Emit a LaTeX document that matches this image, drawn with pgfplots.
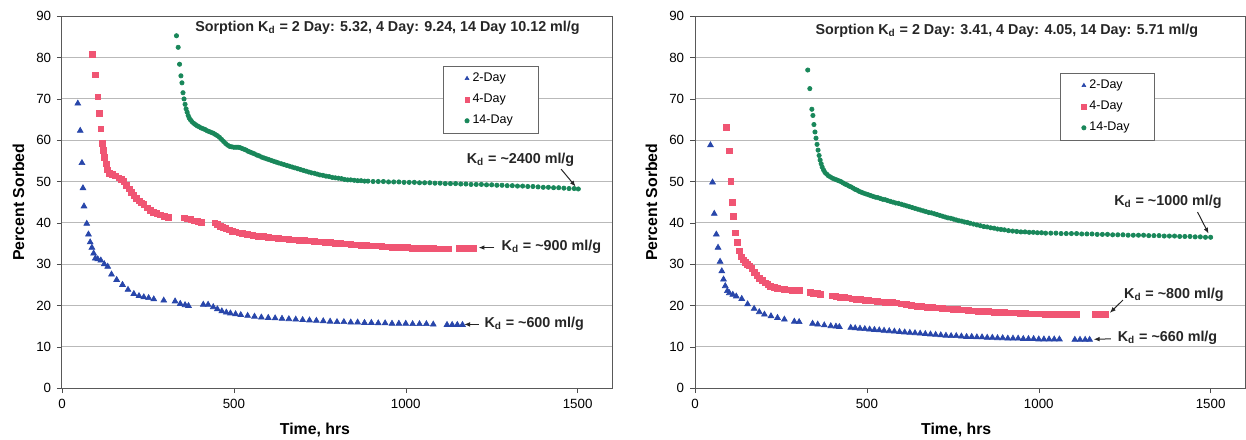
\documentclass[border=0pt]{standalone}
\usepackage{pgfplots}
\pgfplotsset{compat=1.18}
\usepackage{fontspec}
\setmainfont{Liberation Sans}
\usetikzlibrary{arrows.meta}
\definecolor{cblue}{RGB}{40,70,170}
\definecolor{cred}{RGB}{240,85,115}
\definecolor{cgreen}{RGB}{25,135,90}

\tikzset{
  ann/.style={font=\bfseries\fontsize{8.6}{10}\selectfont, text=black!85},
  arr/.style={-{Latex[length=3.5pt,width=2.8pt]}, black!85, line width=0.6pt},
}
\pgfplotsset{
  panel/.style={
    scale only axis, width=330pt, height=223pt,
    xmin=0, xmax=1600, ymin=0, ymax=90,
    xtick={0,500,1000,1500}, ytick={0,10,...,90},
    ymajorgrids, grid style={gray!55, line width=0.6pt},
    axis line style={gray!70!black, line width=0.6pt},
    tick align=outside, major tick length=3pt, tick style={black!70},
    xtick pos=left, ytick pos=left,
    tick label style={font=\fontsize{8}{9}\selectfont},
    /pgf/number format/assume math mode=true,
    /pgf/number format/1000 sep={},
    xlabel={Time, hrs}, ylabel={Percent Sorbed},
    label style={font=\bfseries\fontsize{9.5}{11}\selectfont},
    ylabel style={at={(axis description cs:-0.079,0.5)}, anchor=center},
    legend style={draw=black!60, font=\fontsize{7.5}{9}\selectfont, cells={anchor=west},
      row sep=2pt, inner xsep=13pt, inner ysep=2pt},
    legend image post style={mark size=1.3pt},
    clip=false,
  },
  s2/.style={only marks, mark=triangle*, mark size=2pt, color=cblue},
  s4/.style={only marks, mark=square*, mark size=1.7pt, color=cred},
  s14/.style={only marks, mark=*, mark size=1.3pt, color=cgreen},
}

\begin{document}
\begin{tikzpicture}
\useasboundingbox (0,0) rectangle (747.6pt,263.4pt);

% ---------------- Left panel ----------------
\begin{axis}[panel, at={(37.2pt,30.6pt)}, anchor=south west,
  xlabel style={at={(axis description cs:0.46,-0.112)}, anchor=center},
  legend style={at={(axis cs:1108,78)}, anchor=north west}]
\addplot[s2] coordinates {
(46,68.9)(53,62.3)(58,54.5)(61,48.4)(64,44.0)(72,39.8)(77,37.2)(82,35.3)(87,34.0)(92,32.6)
(97,31.4)(104,31.2)(113,30.9)(123,30.0)(133,29.4)(144,27.5)(159,26.2)(176,25.0)(192,23.8)(209,22.8)
(224,22.3)(238,22.0)(252,21.8)(267,21.5)(296,21.2)(329,21.0)(344,20.4)(358,20.1)(368,19.9)
(411,20.2)(425,20.2)(440,19.6)(452,19.1)(465,18.6)(478,18.3)(490,18.1)(505,17.9)(520,17.7)(540,17.5)
(560,17.3)(580,17.1)(600,17.0)(620,16.9)(640,16.8)(660,16.7)(680,16.6)(700,16.5)(720,16.4)(740,16.3)
(760,16.2)(780,16.1)(800,16.0)(820,16.0)(840,15.9)(860,15.9)(880,15.8)(900,15.8)(920,15.7)(940,15.7)
(960,15.6)(980,15.6)(1000,15.6)(1020,15.5)(1040,15.5)(1060,15.5)(1080,15.4)
(1120,15.3)(1135,15.3)(1150,15.3)(1165,15.3)};
\addlegendentry{2-Day}
\addplot[s4] coordinates {
(89,80.8)(97,75.8)(104,70.5)(108,66.5)(113,62.8)(118,59.2)(121,57.5)(124,55.8)(128,54.3)(132,52.8)
(138,52.0)(146,51.7)(156,51.4)(165,50.9)(173,50.5)(180,50.1)(188,49.1)(195,48.2)(202,47.4)(209,46.6)
(216,45.9)(224,45.3)(231,44.8)(238,44.4)(248,43.6)(257,43.0)(266,42.6)(276,42.3)(287,41.9)(298,41.6)
(309,41.4)
(355,41.2)(365,41.0)(375,40.8)(385,40.5)(395,40.3)(405,40.1)
(445,40.0)(452,39.6)(460,39.2)(468,38.9)(477,38.6)(486,38.3)(495,38.0)(505,37.8)(515,37.6)(525,37.4)
(540,37.2)(555,37.0)(570,36.8)(585,36.7)(600,36.5)(615,36.4)(630,36.2)(645,36.1)(660,36.0)(675,35.9)
(690,35.8)(705,35.7)(720,35.6)(735,35.5)(750,35.4)(765,35.3)(780,35.2)(795,35.1)(810,35.0)(825,34.9)
(840,34.8)(855,34.7)(870,34.6)(885,34.5)(900,34.4)(915,34.4)(930,34.3)(945,34.2)(960,34.1)(975,34.1)
(990,34.0)(1005,34.0)(1020,33.9)(1035,33.9)(1050,33.8)(1065,33.8)(1080,33.8)(1095,33.7)(1110,33.7)(1125,33.7)
(1155,33.9)(1170,33.9)(1185,33.9)(1198,33.9)};
\addlegendentry{4-Day}
\addplot[s14] coordinates {
(333,85.3)(338,82.5)(342,78.4)(346,75.6)(349,73.9)(352,71.5)(355,70.0)(358,68.7)(361,67.6)(364,66.8)
(367,66.0)(370,65.4)(374,64.9)(378,64.5)(383,64.1)(388,63.8)(393,63.5)(398,63.3)(404,63.0)(410,62.8)
(416,62.6)(422,62.3)(428,62.1)(434,61.9)(440,61.7)(446,61.4)(452,61.1)(458,60.7)(464,60.2)(470,59.7)
(476,59.2)(482,58.8)(488,58.5)(494,58.4)(500,58.3)(506,58.3)(512,58.3)(518,58.2)(524,58.0)(530,57.8)
(536,57.6)(542,57.3)(548,57.1)(554,56.9)(560,56.7)(567,56.4)(574,56.2)(581,55.9)(588,55.7)(595,55.5)
(602,55.3)(609,55.1)(616,54.9)(623,54.7)(630,54.5)(638,54.3)(646,54.1)(654,53.9)(662,53.7)(670,53.5)
(678,53.3)(686,53.1)(694,52.9)(702,52.7)(710,52.5)(718,52.3)(726,52.1)(734,52.0)(742,51.8)(750,51.6)
(759,51.5)(768,51.3)(777,51.2)(786,51.0)(795,50.9)(804,50.8)(813,50.7)(822,50.5)(831,50.4)(840,50.4)
(850,50.3)(860,50.2)(870,50.2)(880,50.1)(890,50.1)
(905,50.0)(920,50.0)(935,50.0)(950,49.9)(965,49.9)(980,49.9)(995,49.8)(1010,49.8)(1025,49.8)(1040,49.7)
(1055,49.7)(1070,49.7)(1085,49.6)(1100,49.6)(1115,49.5)(1130,49.5)(1145,49.5)(1160,49.4)(1175,49.4)(1190,49.3)
(1205,49.3)(1220,49.3)(1235,49.2)(1250,49.2)(1265,49.1)(1280,49.1)(1295,49.0)(1310,49.0)(1325,48.9)(1340,48.9)
(1355,48.8)(1370,48.8)(1385,48.7)(1400,48.6)(1415,48.6)(1430,48.5)(1445,48.5)(1460,48.4)(1475,48.3)(1490,48.3)
(1502,48.2)};
\addlegendentry{14-Day}
\node[ann] at (axis cs:947,87.2) {Sorption K\textsubscript{d} = 2 Day: 5.32, 4 Day: 9.24, 14 Day 10.12 ml/g};
\node[ann] at (axis cs:1334,55.3) {K\textsubscript{d} = \textasciitilde2400 ml/g};
\draw[arr] (axis cs:1452,53.0) -- (axis cs:1494,48.8);
\draw[arr] (axis cs:1258,34.0) -- (axis cs:1212,34.0);
\node[ann, anchor=west] at (axis cs:1262,34.2) {K\textsubscript{d} = \textasciitilde900 ml/g};
\draw[arr] (axis cs:1212,15.4) -- (axis cs:1170,15.4);
\node[ann, anchor=west] at (axis cs:1212,15.6) {K\textsubscript{d} = \textasciitilde600 ml/g};
\end{axis}

% ---------------- Right panel ----------------
\begin{axis}[panel, at={(417pt,30.6pt)}, anchor=south west,
  xlabel style={at={(axis description cs:0.475,-0.112)}, anchor=center},
  legend style={at={(axis cs:1061,76.3)}, anchor=north west}]
\addplot[s2] coordinates {
(45,58.8)(51,49.8)(56,42.2)(62,37.2)(67,34.0)(73,30.6)(78,28.3)(83,26.3)(88,24.7)(94,23.5)
(100,23.0)(110,22.6)(120,22.2)(136,21.6)(153,20.3)(172,19.2)(187,18.4)(202,17.8)(221,17.4)(240,17.0)
(260,16.6)
(289,16.1)(303,16.0)
(342,15.6)(357,15.4)(376,15.2)(395,15.0)(410,14.9)(420,14.8)
(453,14.6)(466,14.5)(480,14.4)(494,14.3)(508,14.2)(522,14.1)(536,14.0)(550,13.9)(565,13.8)(580,13.7)
(595,13.6)(610,13.5)(625,13.4)(640,13.3)(655,13.2)(670,13.1)(685,13.0)(700,12.9)(715,12.8)(730,12.7)
(745,12.6)(760,12.6)(775,12.5)(790,12.4)(805,12.4)(820,12.3)(835,12.3)(850,12.2)(865,12.2)(880,12.1)
(895,12.1)(910,12.0)(925,12.0)(940,12.0)(955,11.9)(970,11.9)(985,11.9)(1000,11.8)(1015,11.8)(1030,11.8)
(1045,11.8)(1060,11.8)
(1105,11.7)(1120,11.7)(1135,11.7)(1148,11.7)};
\addlegendentry{2-Day}
\addplot[s4] coordinates {
(92,63.1)(100,57.4)(104,50.0)(108,44.9)(112,41.5)(118,37.6)(123,35.2)(128,33.2)(134,31.8)(140,31.0)
(146,30.5)(152,30.0)(158,29.6)(165,29.0)(172,28.0)(180,27.3)(188,26.6)(196,26.0)(204,25.5)(212,25.1)
(220,24.7)(230,24.4)(240,24.2)(250,24.0)(260,23.9)(270,23.8)(282,23.7)(293,23.7)(303,23.6)
(335,23.2)(345,23.0)(355,22.9)(365,22.7)
(398,22.3)(410,22.2)(422,22.0)(434,21.9)(446,21.8)(458,21.6)(470,21.5)(482,21.4)(494,21.3)(506,21.2)
(518,21.1)(530,21.0)(542,20.9)(554,20.8)
(575,20.8)(587,20.6)(600,20.4)(615,20.2)(630,20.0)(645,19.8)(660,19.7)(675,19.6)(690,19.5)(705,19.4)
(720,19.3)(735,19.2)(750,19.1)(765,19.0)(780,18.9)(795,18.8)(810,18.7)(825,18.6)(840,18.5)(855,18.5)
(870,18.4)(885,18.3)(900,18.3)(915,18.2)(930,18.2)(945,18.1)(960,18.1)(975,18.0)(990,18.0)(1005,18.0)
(1020,17.9)(1035,17.9)(1050,17.9)(1065,17.9)(1080,17.8)(1095,17.8)(1110,17.8)
(1165,17.9)(1180,17.9)(1195,17.9)};
\addlegendentry{4-Day}
\addplot[s14] coordinates {
(328,77.0)(334,72.5)(340,67.5)(343,66.0)(346,63.8)(349,62.0)(352,60.5)(355,59.0)(358,57.6)(361,56.3)
(364,55.2)(367,54.3)(370,53.5)(374,52.8)(378,52.2)(383,51.8)(388,51.4)(394,51.1)(400,50.8)(406,50.6)
(412,50.4)(418,50.2)(424,50.0)(430,49.7)(436,49.4)(442,49.2)(448,48.9)(454,48.7)(460,48.4)(466,48.1)
(472,47.9)(478,47.6)(484,47.4)(490,47.2)(497,47.0)(504,46.8)(511,46.6)(518,46.4)(525,46.2)(532,46.1)
(539,45.9)(546,45.7)(553,45.6)(560,45.4)(568,45.2)(576,45.0)(584,44.8)(592,44.7)(600,44.5)(608,44.3)
(616,44.1)(624,43.9)(632,43.7)(640,43.5)(648,43.3)(656,43.1)(664,42.9)(672,42.7)(680,42.5)(688,42.4)
(696,42.2)(704,42.0)(712,41.8)(720,41.6)(728,41.4)(736,41.2)(744,41.1)(752,40.9)(760,40.7)(768,40.5)
(776,40.4)(784,40.2)(792,40.1)(800,39.9)(810,39.7)(820,39.5)(830,39.3)(840,39.1)(850,39.0)(860,38.8)
(870,38.7)(880,38.5)(890,38.4)(900,38.3)(912,38.1)(924,38.0)(936,37.9)(948,37.8)(960,37.8)(972,37.7)
(984,37.7)(996,37.6)(1008,37.6)(1020,37.5)(1035,37.5)(1050,37.5)(1065,37.4)(1080,37.4)(1095,37.4)(1110,37.4)
(1125,37.3)(1140,37.3)(1155,37.3)(1170,37.2)(1185,37.2)(1200,37.2)(1215,37.1)(1230,37.1)(1245,37.1)(1260,37.0)
(1275,37.0)(1290,37.0)(1305,37.0)(1320,36.9)(1335,36.9)(1350,36.9)(1365,36.8)(1380,36.8)(1395,36.8)(1410,36.7)
(1425,36.7)(1440,36.7)(1455,36.6)(1470,36.6)(1485,36.5)(1500,36.5)};
\addlegendentry{14-Day}
\node[ann] at (axis cs:907,86.6) {Sorption K\textsubscript{d} = 2 Day: 3.41, 4 Day: 4.05, 14 Day: 5.71 ml/g};
\node[ann] at (axis cs:1376,45.2) {K\textsubscript{d} = \textasciitilde1000 ml/g};
\draw[arr] (axis cs:1462,42.6) -- (axis cs:1494,37.4);
\node[ann] at (axis cs:1393,22.5) {K\textsubscript{d} = \textasciitilde800 ml/g};
\draw[arr] (axis cs:1245,21.3) -- (axis cs:1207,18.2);
\draw[arr] (axis cs:1210,11.9) -- (axis cs:1160,11.8);
\node[ann, anchor=west] at (axis cs:1213,12.2) {K\textsubscript{d} = \textasciitilde660 ml/g};
\end{axis}
\end{tikzpicture}
\end{document}
